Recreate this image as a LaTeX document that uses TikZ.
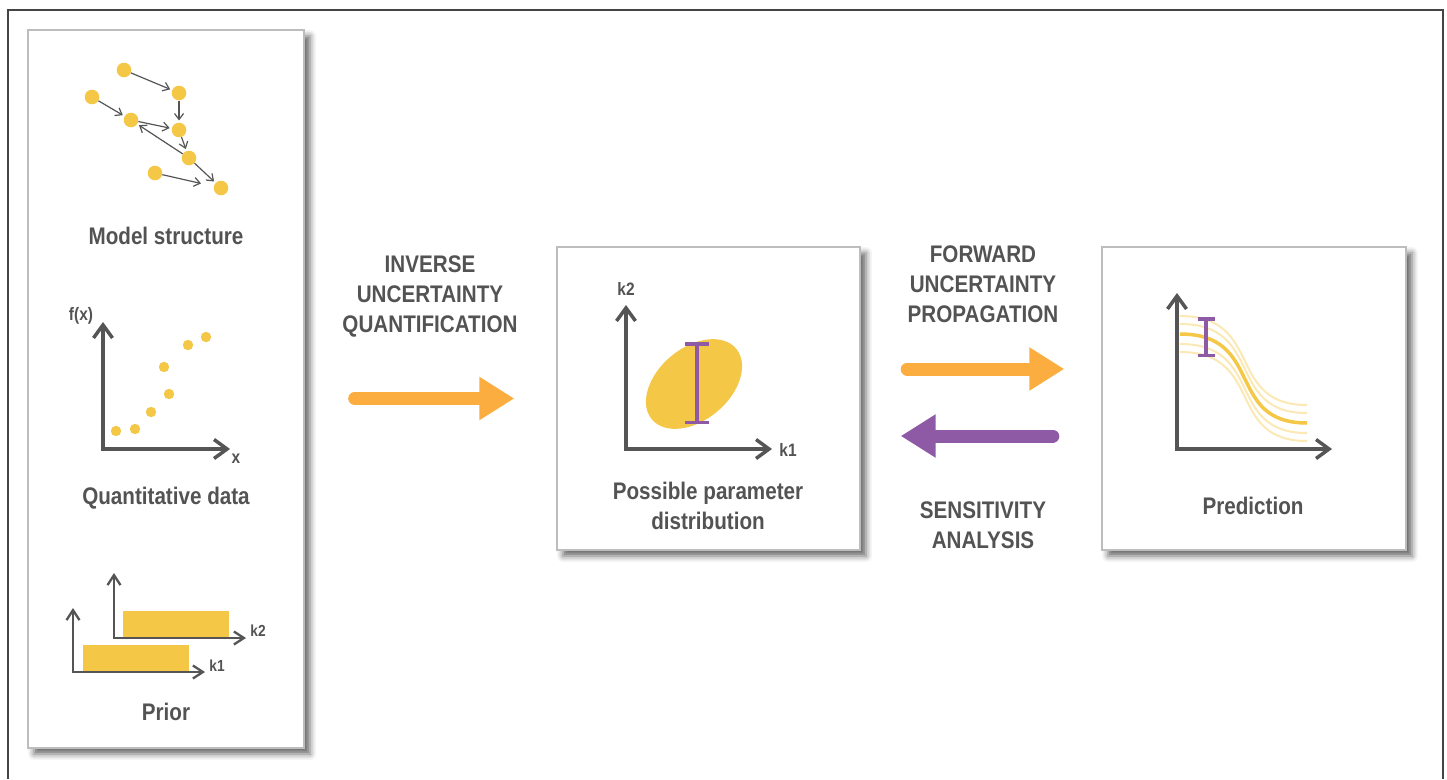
\documentclass[tikz,border=0pt]{standalone}
\usepackage{fontspec}
\setmainfont{Liberation Sans}
\newfontfamily\narrowfont[FakeStretch=0.86]{Liberation Sans}
\usetikzlibrary{arrows.meta}
\usetikzlibrary{positioning}
\usetikzlibrary{shadows.blur}
\definecolor{txtgray}{HTML}{535353}
\definecolor{axisgray}{HTML}{555555}
\definecolor{dotyellow}{HTML}{F5C746}
\definecolor{arroworange}{HTML}{FBAE3F}
\definecolor{barpurple}{HTML}{8E5AA6}
\definecolor{panelgray}{HTML}{BDBDBD}
\tikzset{frameline/.style = {draw=axisgray!80!black, line width=1.2pt}}
\tikzset{panel/.style = {draw=panelgray, line width=1.4pt, fill=white, inner sep=0, blur shadow={shadow xshift=6pt, shadow yshift=-6pt, shadow blur radius=6pt, shadow opacity=60}}}
\tikzset{caption/.style = {font=\narrowfont\bfseries\fontsize{24}{30}\selectfont, text=txtgray, align=center, inner sep=0}}
\tikzset{axlabel/.style = {font=\narrowfont\bfseries\fontsize{18}{20}\selectfont, text=txtgray, inner sep=0}}
\tikzset{smalllabel/.style = {font=\narrowfont\bfseries\fontsize{16}{18}\selectfont, text=txtgray, inner sep=0}}
\tikzset{circ/.style = {fill=dotyellow, circle, inner sep=0, minimum size=14.6pt}}
\tikzset{edge/.style = {draw=axisgray, line width=1.2pt, -{Straight Barb[length=6pt, width=9pt]}, shorten >=2pt}}
\tikzset{axis/.style = {draw=axisgray, line width=3.5pt, {Straight Barb[length=13pt, width=19pt]}-{Straight Barb[length=13pt, width=19pt]}}}
\tikzset{thinaxis/.style = {draw=axisgray, line width=2.3pt, {Straight Barb[length=10pt, width=13pt]}-{Straight Barb[length=10pt, width=13pt]}}}
\tikzset{fatarrow/.style = {line width=13pt, line cap=round, -{Triangle[length=35pt, width=41pt]}}}
\tikzset{errbar/.style = {draw=barpurple, line width=3.5pt}}
\tikzset{band/.style = {draw=dotyellow, opacity=0.4, line width=2pt}}

\begin{document}
\begin{tikzpicture}[x=1pt, y=-1pt]
        \useasboundingbox (0,0) rectangle (1447,779);
        \draw[frameline] (8,779) -- (8,10) -- (1443,10) -- (1443,779);

        \node[panel, minimum width=276pt, minimum height=718pt] (inputs) at (166,389) {};
        \node[panel, minimum width=303pt, minimum height=303pt] (param) at (708.5,398.5) {};
        \node[panel, minimum width=304pt, minimum height=303pt] (pred) at (1254,398.5) {};

        % model structure
        \node[circ] (m1) at (124,70) {};
        \node[circ] (m2) at (179,93) {};
        \node[circ] (m3) at (92,97) {};
        \node[circ] (m4) at (131,120) {};
        \node[circ] (m5) at (179,130) {};
        \node[circ] (m6) at (189,158) {};
        \node[circ] (m7) at (155,173) {};
        \node[circ] (m8) at (221,188) {};
        \draw[edge] (m1) -- (m2);
        \draw[edge] (m2) -- (m5);
        \draw[edge] (m3) -- (m4);
        \draw[edge] (m4) -- (m5);
        \draw[edge] (m5) -- (m6);
        \draw[edge] (m6) -- (m4);
        \draw[edge] (m6) -- (m8);
        \draw[edge, shorten >=13pt] (m7) -- (m8);
        \node[caption] (modeltxt) at (166,236) {Model structure};

        % quantitative data
        \foreach \p in {(116,431),(135,429),(151,412),(169,394),(164,367),(188,345),(206,337)}
            \fill[dotyellow] \p circle [radius=5.2pt];
        \coordinate (qorig) at (103,449);
        \draw[axis] (103,322) -- (qorig) -- (230,449);
        \node[axlabel] (fx) at (81,316) {f(x)};
        \node[axlabel] (xl) at (236,459) {x};
        \node[caption] (datatxt) at (166,498) {Quantitative data};

        % prior
        \fill[dotyellow] (123,611) rectangle (229,637);
        \fill[dotyellow] (83,645) rectangle (189,671);
        \draw[thinaxis] (114,573) -- (114,638) -- (246,638);
        \draw[thinaxis] (73,608) -- (73,672) -- (205,672);
        \node[smalllabel] (pk2) at (258,631) {k2};
        \node[smalllabel] (pk1) at (217,666) {k1};
        \node[caption] (priortxt) at (166,712) {Prior};

        % parameter distribution
        \fill[dotyellow, rotate around={40:(694,384)}] (694,384) ellipse [x radius=55pt, y radius=36pt];
        \draw[errbar, {Bar[width=24pt]}-{Bar[width=24pt]}] (697,342) -- (697,424);
        \draw[axis] (626,305) -- (626,449) -- (772,449);
        \node[axlabel] (ak2) at (626,289) {k2};
        \node[axlabel] (ak1) at (788,450) {k1};
        \node[caption] (paramtxt) at (708,506) {Possible parameter\\distribution};

        % prediction
        \foreach \d in {-18,-10,10,18}
            \draw[band, yshift=\d pt] (1180,334) .. controls (1265,334) and (1225,423) .. (1307,423);
        \draw[draw=dotyellow, line width=3.5pt] (1180,334) .. controls (1265,334) and (1225,423) .. (1307,423);
        \draw[errbar, {Bar[width=17pt]}-{Bar[width=17pt]}] (1206,317) -- (1206,357);
        \draw[axis] (1177,293) -- (1177,449) -- (1332,449);
        \node[caption] (predtxt) at (1253,506) {Prediction};

        % arrows between panels
        \draw[fatarrow, arroworange] ([xshift=50pt]inputs.east |- param.west) -- ([xshift=-42pt]param.west);
        \draw[fatarrow, arroworange] ([xshift=46.5pt, yshift=29.5pt]param.east) -- ([xshift=-37pt, yshift=29.5pt]pred.west);
        \draw[fatarrow, barpurple] ([xshift=-48.5pt, yshift=-37.5pt]pred.west) -- ([xshift=40pt, yshift=-37.5pt]param.east);
        \node[caption] (inversetxt) at (430,296) {INVERSE\\UNCERTAINTY\\QUANTIFICATION};
        \node[caption] (forwardtxt) at (983,284) {FORWARD\\UNCERTAINTY\\PROPAGATION};
        \node[caption] (sensitxt) at (983,525) {SENSITIVITY\\ANALYSIS};
\end{tikzpicture}
\end{document}
